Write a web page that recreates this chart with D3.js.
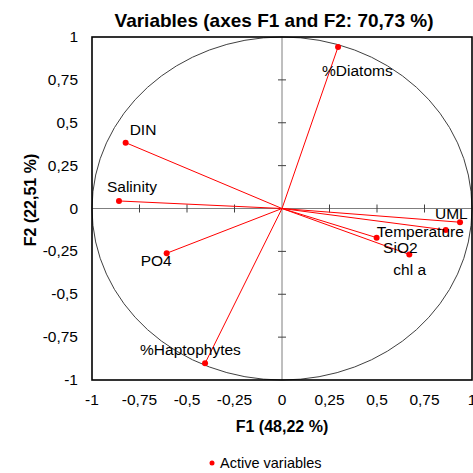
<!DOCTYPE html>
<html>
<head>
<meta charset="utf-8">
<script src="https://cdn.jsdelivr.net/npm/d3@7/dist/d3.min.js"></script>
<style>
  html, body { margin: 0; padding: 0; background: #fff; }
  svg { display: block; font-family: "Liberation Sans", Arial, sans-serif; }
</style>
</head>
<body>
<svg id="chart" width="473" height="473"></svg>
<script>
// Correlation circle: PCA variable loadings on F1 and F2
const variables = ["%Diatoms", "DIN", "Salinity", "PO4", "%Haptophytes", "UML", "Temperature", "SiO2", "chl a"];
const f1 = [0.295, -0.823, -0.858, -0.607, -0.405, 0.937, 0.862, 0.498, 0.670];
const f2 = [0.942, 0.384, 0.044, -0.261, -0.903, -0.080, -0.125, -0.170, -0.268];
const xTicks = [-1, -0.75, -0.5, -0.25, 0, 0.25, 0.5, 0.75, 1];
const yTicks = [-1, -0.75, -0.5, -0.25, 0, 0.25, 0.5, 0.75, 1];
const titleText = "Variables (axes F1 and F2: 70,73 %)";
const xTitle = "F1 (48,22 %)";
const yTitle = "F2 (22,51 %)";
const legendText = "Active variables";

// label placement relative to each point (text start, baseline)
const labelOffset = {
  "%Diatoms": [-16, 29],
  "DIN": [4, -8],
  "Salinity": [-12, -9],
  "PO4": [-26, 13],
  "%Haptophytes": [-65, -8],
  "UML": [-25, -3],
  "Temperature": [-69, 7],
  "SiO2": [6.5, 15],
  "chl a": [-16, 21]
};

const svg = d3.select("#chart");
const plot = { left: 92, right: 472, top: 37, bottom: 380 };

const x = d3.scaleLinear().domain([-1, 1]).range([plot.left, plot.right]);
const y = d3.scaleLinear().domain([-1, 1]).range([plot.bottom, plot.top]);
const fmt = d => String(d).replace(".", ",");

// zero axes
svg.append("line")
  .attr("x1", x(-1)).attr("x2", x(1)).attr("y1", y(0)).attr("y2", y(0))
  .attr("stroke", "#7f7f7f").attr("stroke-width", 1);
svg.append("line")
  .attr("x1", x(0)).attr("x2", x(0)).attr("y1", y(-1)).attr("y2", y(1))
  .attr("stroke", "#7f7f7f").attr("stroke-width", 1);

// crossing tick marks on the zero axes
svg.append("g").selectAll("line").data(yTicks.filter(t => t !== 0 && Math.abs(t) !== 1)).join("line")
  .attr("x1", x(0) - 4).attr("x2", x(0) + 4)
  .attr("y1", d => y(d)).attr("y2", d => y(d))
  .attr("stroke", "#404040").attr("stroke-width", 1);
svg.append("g").selectAll("line").data(xTicks.filter(t => t !== 0 && Math.abs(t) !== 1)).join("line")
  .attr("y1", y(0) - 4).attr("y2", y(0) + 4)
  .attr("x1", d => x(d)).attr("x2", d => x(d))
  .attr("stroke", "#404040").attr("stroke-width", 1);

// unit circle
svg.append("ellipse")
  .attr("cx", x(0)).attr("cy", y(0))
  .attr("rx", x(1) - x(0)).attr("ry", y(0) - y(1))
  .attr("fill", "none").attr("stroke", "#404040").attr("stroke-width", 1);

// frame
svg.append("rect")
  .attr("x", plot.left).attr("y", plot.top)
  .attr("width", plot.right - plot.left).attr("height", plot.bottom - plot.top)
  .attr("fill", "none").attr("stroke", "#000").attr("stroke-width", 1.6);

// tick labels
svg.append("g").selectAll("text").data(xTicks).join("text")
  .attr("x", d => x(d)).attr("y", plot.bottom + 25)
  .attr("text-anchor", "middle").attr("font-size", 15.5).attr("fill", "#000")
  .text(fmt);
svg.append("g").selectAll("text").data(yTicks).join("text")
  .attr("x", plot.left - 14).attr("y", d => y(d) + 5)
  .attr("text-anchor", "end").attr("font-size", 15.5).attr("fill", "#000")
  .text(fmt);

// loading vectors
const data = variables.map((name, i) => ({ name, v1: f1[i], v2: f2[i] }));
svg.append("g").selectAll("line").data(data).join("line")
  .attr("x1", x(0)).attr("y1", y(0))
  .attr("x2", d => x(d.v1)).attr("y2", d => y(d.v2))
  .attr("stroke", "#ff0000").attr("stroke-width", 1);
svg.append("g").selectAll("circle").data(data).join("circle")
  .attr("cx", d => x(d.v1)).attr("cy", d => y(d.v2)).attr("r", 3)
  .attr("fill", "#ff0000");
svg.append("g").selectAll("text").data(data).join("text")
  .attr("x", d => x(d.v1) + labelOffset[d.name][0])
  .attr("y", d => y(d.v2) + labelOffset[d.name][1])
  .attr("font-size", 15.5).attr("fill", "#000")
  .text(d => d.name);

// titles
svg.append("text")
  .attr("x", 274).attr("y", 27).attr("text-anchor", "middle")
  .attr("font-size", 19).attr("font-weight", "bold").text(titleText);
svg.append("text")
  .attr("x", x(0)).attr("y", 432).attr("text-anchor", "middle")
  .attr("font-size", 16).attr("font-weight", "bold").text(xTitle);
svg.append("text")
  .attr("transform", "translate(36,200) rotate(-90)")
  .attr("text-anchor", "middle")
  .attr("font-size", 16).attr("font-weight", "bold").text(yTitle);

// legend
svg.append("circle").attr("cx", 212).attr("cy", 463).attr("r", 2.5).attr("fill", "#ff0000");
svg.append("text").attr("x", 220).attr("y", 468)
  .attr("font-size", 14.5).attr("fill", "#000").text(legendText);
</script>
</body>
</html>
